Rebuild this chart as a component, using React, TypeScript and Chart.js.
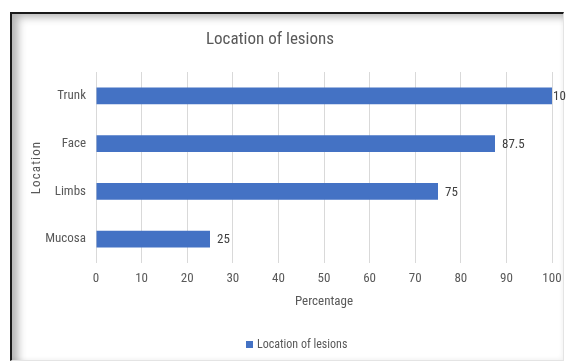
import React, { useEffect, useRef } from "react";
import { Chart, registerables } from "chart.js";

Chart.register(...registerables);

const categories = ["Trunk", "Face", "Limbs", "Mucosa"];
const values = [100, 87.5, 75, 25];
const xMin = 0;
const xMax = 100;
const xStep = 10;
const seriesName = "Location of lesions";
const chartTitle = "Location of lesions";
const xTitle = "Percentage";
const yTitle = "Location";

const FONT = "'Roboto Condensed', 'Liberation Sans', sans-serif";
const TEXT = "#595959";
const LABEL = "#404040";
const BAR = "#4472C4";
const GRID = "#d9d9d9";

const overlay = {
  id: "overlay",
  afterDraw(chart: any) {
    const ctx = chart.ctx as CanvasRenderingContext2D;
    const area = chart.chartArea;
    const meta = chart.getDatasetMeta(0);
    ctx.save();
    // data labels
    ctx.font = `13px ${FONT}`;
    ctx.fillStyle = LABEL;
    ctx.textAlign = "left";
    ctx.textBaseline = "middle";
    meta.data.forEach((el: any, i: number) => {
      const txt = String(values[i]);
      const w = ctx.measureText(txt).width;
      let x = el.x + 7;
      if (x + w > chart.width) x = el.x + 1;
      ctx.fillText(txt, x, el.y + 1);
    });
    // chart title
    ctx.font = `17px ${FONT}`;
    ctx.fillStyle = TEXT;
    ctx.textAlign = "center";
    ctx.fillText(chartTitle, 270, 40);
    // y axis title
    ctx.save();
    ctx.translate(37, (area.top + area.bottom) / 2);
    ctx.rotate(-Math.PI / 2);
    (ctx as any).letterSpacing = "1.1px";
    ctx.font = `13px ${FONT}`;
    ctx.fillStyle = TEXT;
    ctx.textAlign = "center";
    ctx.textBaseline = "middle";
    ctx.fillText(yTitle, 0, 0);
    ctx.restore();
    // legend
    ctx.fillStyle = BAR;
    ctx.fillRect(246, 341, 7, 7);
    ctx.font = `12px ${FONT}`;
    ctx.fillStyle = TEXT;
    ctx.textAlign = "left";
    ctx.textBaseline = "middle";
    ctx.fillText(seriesName, 257, 345);
    ctx.restore();
  },
};

export default function App() {
  const ref = useRef<HTMLCanvasElement | null>(null);
  useEffect(() => {
    if (!ref.current) return;
    const chart = new Chart(ref.current, {
      type: "bar",
      data: {
        labels: categories,
        datasets: [
          {
            label: seriesName,
            data: values,
            backgroundColor: BAR,
            borderWidth: 0,
            barPercentage: 0.7,
            categoryPercentage: 0.5,
          },
        ],
      },
      options: {
        indexAxis: "y",
        responsive: false,
        animation: false,
        devicePixelRatio: 1,
        layout: { padding: { left: 10, top: 72, right: 14, bottom: 47 } },
        plugins: {
          legend: { display: false },
          title: { display: false },
          tooltip: { enabled: false },
        },
        scales: {
          x: {
            min: xMin,
            max: xMax,
            ticks: {
              stepSize: xStep,
              color: TEXT,
              font: { family: FONT, size: 13 },
              padding: 8,
              maxRotation: 0,
            },
            grid: { color: GRID, drawTicks: false, lineWidth: 1 },
            border: { display: false },
            title: {
              display: true,
              text: xTitle,
              color: TEXT,
              font: { family: FONT, size: 13 },
              padding: { top: 0, bottom: 5 },
            },
            afterFit(scale: any) {
              scale.height = 52;
              scale.paddingLeft = 0;
              scale.paddingRight = 0;
            },
          },
          y: {
            ticks: {
              color: TEXT,
              font: { family: FONT, size: 13 },
              padding: 10,
            },
            grid: { display: false, drawTicks: false },
            border: { display: false },
            afterFit(scale: any) {
              scale.width = 86;
            },
          },
        },
      },
      plugins: [overlay],
    } as any);
    return () => chart.destroy();
  }, []);

  return (
    <div style={{ position: "absolute", left: 0, top: 0, width: 566, height: 362, background: "#fff", overflow: "hidden" }}>
      <div
        style={{
          position: "absolute",
          left: 10,
          top: 12,
          width: 551,
          height: 346,
          borderLeft: "2px solid #1a1a1a",
          borderTop: "2px solid #1a1a1a",
          borderRight: "1px solid #e4e4e4",
          borderBottom: "1px solid #e4e4e4",
          boxShadow: "inset 9px 6px 9px -3px rgba(0,0,0,0.3), inset -3px -3px 4px -2px rgba(0,0,0,0.06)",
        }}
      />
      <canvas ref={ref} width={566} height={362} style={{ position: "absolute", left: 0, top: 0, width: 566, height: 362 }} />
    </div>
  );
}
